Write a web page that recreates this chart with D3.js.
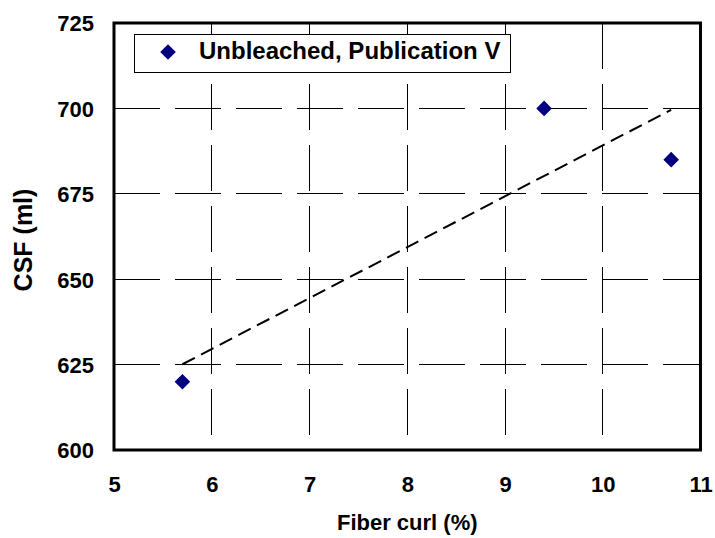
<!DOCTYPE html>
<html>
<head>
<meta charset="utf-8">
<script src="https://cdn.jsdelivr.net/npm/d3@7"></script>
<style>
  html, body { margin: 0; padding: 0; background: #fff; }
  svg { display: block; }
  text { font-family: "Liberation Sans", Arial, sans-serif; font-weight: bold; fill: #000; }
</style>
</head>
<body>
<svg id="chart" width="715" height="538"></svg>
<script>
// ---- data ----
const seriesName = "Unbleached, Publication V";
const fiberCurl = [5.7, 9.4, 10.7];
const csf = [620, 700, 685];
const trendX = [5.7, 10.7];
const trendY = [625.1, 699.6];
const xTicks = [5, 6, 7, 8, 9, 10, 11];
const yTicks = [600, 625, 650, 675, 700, 725];
const xTitle = "Fiber curl (%)";
const yTitle = "CSF (ml)";

// ---- layout ----
const svg = d3.select("#chart");
const L = 114, R = 700.5, T = 23, B = 450;
const x = d3.scaleLinear().domain([5, 11]).range([L, R]);
const y = d3.scaleLinear().domain([600, 725]).range([B, T]);

// gridlines
const grid = svg.append("g");
grid.selectAll("line.h").data(yTicks.slice(1, -1)).join("line")
  .attr("x1", L).attr("x2", R).attr("y1", d => y(d)).attr("y2", d => y(d))
  .attr("stroke", "#000").attr("stroke-width", 1).attr("stroke-dasharray", "46,15")
  .attr("shape-rendering", "crispEdges");
grid.selectAll("line.v").data(xTicks.slice(1, -1)).join("line")
  .attr("x1", d => x(d)).attr("x2", d => x(d)).attr("y1", T).attr("y2", B)
  .attr("stroke", "#000").attr("stroke-width", 1).attr("stroke-dasharray", "46,15")
  .attr("shape-rendering", "crispEdges");

// plot border
svg.append("rect").attr("x", L).attr("y", T).attr("width", R - L).attr("height", B - T)
  .attr("fill", "none").attr("stroke", "#000").attr("stroke-width", 3);

// axes (labels only)
const xAxis = svg.append("g").attr("transform", `translate(0,${B})`)
  .call(d3.axisBottom(x).tickValues(xTicks).tickSize(0).tickPadding(42).tickFormat(d3.format("d")));
xAxis.select(".domain").remove();
xAxis.selectAll("text").attr("font-size", 22).attr("font-family", "Liberation Sans, Arial, sans-serif").attr("font-weight", "bold").attr("dy", 0);

const yAxis = svg.append("g").attr("transform", `translate(${L},0)`)
  .call(d3.axisLeft(y).tickValues(yTicks).tickSize(0).tickPadding(20).tickFormat(d3.format("d")));
yAxis.select(".domain").remove();
yAxis.selectAll("text").attr("font-size", 22).attr("font-family", "Liberation Sans, Arial, sans-serif").attr("font-weight", "bold").attr("dy", "0.36em");

// axis titles
svg.append("text").attr("x", (L + R) / 2).attr("y", 530).attr("text-anchor", "middle")
  .attr("font-size", 22).text(xTitle);
svg.append("text").attr("transform", `translate(32,240) rotate(-90)`)
  .attr("text-anchor", "middle").attr("font-size", 25).text(yTitle);

// trend line
svg.append("path")
  .datum(trendX.map((d, i) => [d, trendY[i]]))
  .attr("d", d3.line().x(d => x(d[0])).y(d => y(d[1])))
  .attr("fill", "none").attr("stroke", "#000").attr("stroke-width", 2).attr("stroke-dasharray", "14,7");

// points
const diamond = d3.symbol().type(d3.symbolDiamond2).size(155);
svg.selectAll("path.pt").data(fiberCurl.map((d, i) => [d, csf[i]])).join("path")
  .attr("class", "pt")
  .attr("d", diamond)
  .attr("transform", d => `translate(${x(d[0])},${y(d[1])})`)
  .attr("fill", "#000080");

// legend
const lg = svg.append("g");
lg.append("rect").attr("x", 134.5).attr("y", 34.5).attr("width", 376).attr("height", 38)
  .attr("fill", "#fff").attr("stroke", "#000").attr("stroke-width", 1);
lg.append("path").attr("d", diamond).attr("transform", "translate(168,52)").attr("fill", "#000080");
lg.append("text").attr("x", 199).attr("y", 58.5).attr("font-size", 24).text(seriesName);
</script>
</body>
</html>
